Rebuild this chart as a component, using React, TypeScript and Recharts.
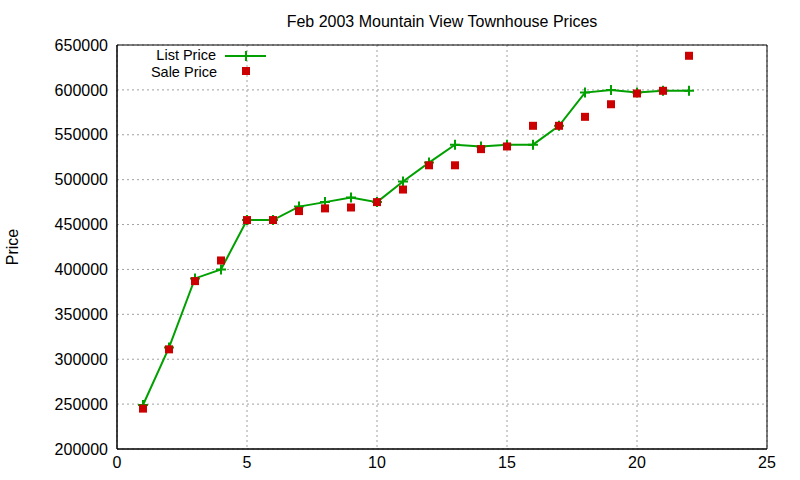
import {
  ComposedChart, Line, Scatter, XAxis, YAxis, CartesianGrid, ReferenceArea,
} from 'recharts';

const UNITS = [1, 2, 3, 4, 5, 6, 7, 8, 9, 10, 11, 12, 13, 14, 15, 16, 17, 18, 19, 20, 21, 22];
const LIST_PRICE = [
  249000, 313000, 390000, 400000, 455000, 455000, 470000, 475000, 480000, 475000, 498000,
  519000, 539000, 537000, 539000, 539000, 560000, 597000, 600000, 597000, 599000, 599000,
];
const SALE_PRICE = [
  245000, 311000, 387000, 410000, 455000, 455000, 465000, 468000, 469000, 475000, 489000,
  516000, 516000, 534000, 537000, 560000, 560000, 570000, 584000, 596000, 599000, 638000,
];
const X_TICKS = [0, 5, 10, 15, 20, 25];
const Y_TICKS = [200000, 250000, 300000, 350000, 400000, 450000, 500000, 550000, 600000, 650000];

const GREEN = '#00a000';
const RED = '#cc0000';
const FONT = '"Liberation Sans", Arial, sans-serif';
const TICK = { fontSize: 16, fill: '#000', fontFamily: FONT };

const data = UNITS.map((x, i) => ({ x, list: LIST_PRICE[i], sale: SALE_PRICE[i] }));

function PlusDot(props: any) {
  const { cx, cy, index } = props;
  if (cx == null || cy == null) return <g key={index} />;
  return (
    <path
      key={index}
      d={`M${cx - 5},${cy}h10M${cx},${cy - 5}v10`}
      stroke={GREEN}
      strokeWidth={2}
      fill="none"
    />
  );
}

function SquareDot(props: any) {
  const { cx, cy } = props;
  return <rect x={cx - 4} y={cy - 4} width={8} height={8} fill={RED} />;
}

export default function App() {
  return (
    <div style={{ position: 'absolute', left: 0, top: 0, width: 800, height: 480, background: '#fff', fontFamily: FONT }}>
      <div style={{ position: 'absolute', left: 0, top: 0 }}>
        <ComposedChart width={800} height={480} data={data} margin={{ top: 45, right: 33, left: 0, bottom: 0 }}>
          <CartesianGrid stroke="#a0a0a0" strokeDasharray="2 3" />
          <XAxis
            dataKey="x"
            type="number"
            domain={[0, 25]}
            ticks={X_TICKS}
            tick={TICK}
            height={31}
            tickLine={false}
            tickSize={4}
            tickMargin={4}
            axisLine={{ stroke: '#000' }}
          />
          <YAxis
            type="number"
            domain={[200000, 650000]}
            ticks={Y_TICKS}
            tick={TICK}
            width={117}
            tickLine={false}
            tickSize={6}
            tickMargin={3}
            axisLine={{ stroke: '#000' }}
          />
          <ReferenceArea x1={0} x2={25} y1={200000} y2={650000} fill="none" stroke="#000" strokeWidth={1} />
          <Line
            dataKey="list"
            name="List Price"
            stroke={GREEN}
            strokeWidth={2}
            dot={PlusDot}
            activeDot={false}
            isAnimationActive={false}
          />
          <Scatter dataKey="sale" name="Sale Price" shape={SquareDot} isAnimationActive={false} />
        </ComposedChart>
      </div>
      <svg width={800} height={480} style={{ position: 'absolute', left: 0, top: 0, pointerEvents: 'none' }}>
        <text x={442} y={21} textAnchor="middle" dominantBaseline="central" fontSize={16} fontFamily={FONT} fill="#000">
          Feb 2003 Mountain View Townhouse Prices
        </text>
        <text
          x={12}
          y={247}
          textAnchor="middle"
          dominantBaseline="central"
          fontSize={16}
          fontFamily={FONT}
          fill="#000"
          transform="rotate(-90 12 247)"
        >
          Price
        </text>
        <g fontSize={14.5} fontFamily={FONT} fill="#000">
          <text x={216} y={55} textAnchor="end" dominantBaseline="central">List Price</text>
          <text x={217} y={72} textAnchor="end" dominantBaseline="central">Sale Price</text>
        </g>
        <line x1={225} x2={266} y1={56} y2={56} stroke={GREEN} strokeWidth={2} />
        <path d="M246,51v10" stroke={GREEN} strokeWidth={2} />
        <rect x={242} y={67} width={8} height={8} fill={RED} />
      </svg>
    </div>
  );
}
